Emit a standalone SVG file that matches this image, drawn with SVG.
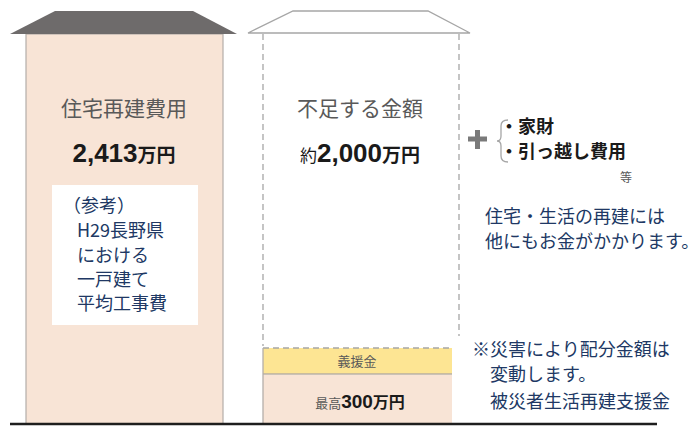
<svg xmlns="http://www.w3.org/2000/svg" width="700" height="427" viewBox="0 0 700 427">
<style>
text{font-family:"Noto Sans CJK JP","Noto Sans",sans-serif}
.gray{fill:#595959}
.blue{fill:#203864}
.blk{fill:#1a1a1a}
.b{font-weight:bold}
.dash{stroke:#a6a6a6;stroke-width:1.3;stroke-dasharray:6 4;fill:none}
</style>
<rect width="700" height="427" fill="#ffffff"/>
<g id="house-left">
<rect x="26" y="34" width="197" height="390" fill="#f8e4d6" stroke="#b4aea9" stroke-width="1.2"/>
<polygon points="55,11 193,11 237,34 10,34" fill="#6e6b6b"/>
<text x="124" y="116" font-size="21" text-anchor="middle" class="gray">住宅再建費用</text>
<text x="124" y="162" text-anchor="middle" class="blk b"><tspan font-size="26" font-family="Liberation Sans,Arial,sans-serif">2,413</tspan><tspan font-size="19">万円</tspan></text>
<rect x="52" y="185" width="146" height="140" fill="#ffffff"/>
<g class="blue" font-size="18">
<text x="63" y="212">（参考）</text>
<text x="77" y="237">H29長野県</text>
<text x="77" y="262">における</text>
<text x="77" y="286">一戸建て</text>
<text x="77" y="310">平均工事費</text>
</g>
</g>
<g id="house-right">
<polygon points="293,11 428,11 470,33 248,33" fill="#ffffff" stroke="#a6a6a6" stroke-width="1.3"/>
<line x1="263" y1="34" x2="263" y2="346" class="dash"/>
<line x1="459" y1="34" x2="459" y2="336" class="dash"/>
<text x="360" y="116" font-size="21" text-anchor="middle" class="gray">不足する金額</text>
<text x="360" y="162" text-anchor="middle" class="blk b"><tspan font-size="17" font-weight="normal">約</tspan><tspan font-size="26" font-family="Liberation Sans,Arial,sans-serif">2,000</tspan><tspan font-size="19">万円</tspan></text>
</g>
<g id="gienkin">
<rect x="263" y="348" width="189" height="26" fill="#fde593"/>
<line x1="263" y1="348" x2="452" y2="348" class="dash"/>
<line x1="263" y1="374" x2="452" y2="374" stroke="#b8aea0" stroke-width="1.5"/>
<text x="357" y="366" font-size="13" text-anchor="middle" class="gray">義援金</text>
</g>
<g id="shienkin">
<rect x="263" y="375" width="189" height="49" fill="#f8e4d6"/>
<line x1="263" y1="348" x2="263" y2="424" stroke="#b4aea9" stroke-width="1.3"/>
<text x="360" y="408" text-anchor="middle" class="blk b"><tspan font-size="13" font-weight="normal" fill="#595959">最高</tspan><tspan font-size="19" font-family="Liberation Sans,Arial,sans-serif">300</tspan><tspan font-size="16">万円</tspan></text>
</g>
<g id="extra">
<path d="M468,139 H487 M477.5,130 V149" stroke="#7a7a7a" stroke-width="5" fill="none"/>
<path d="M508,120 Q501,120 501,126 V136 Q501,141 497,141 Q501,141 501,146 V156 Q501,162 508,162" stroke="#a6a6a6" stroke-width="1.3" fill="none"/>
<text x="500" y="133" font-size="18" class="blk b">・家財</text>
<text x="500" y="158" font-size="18" class="blk b">・引っ越し費用</text>
<text x="620" y="182" font-size="12" class="gray">等</text>
</g>
<g id="notes" class="blue" font-size="18">
<text x="485" y="223">住宅・生活の再建には</text>
<text x="485" y="248">他にもお金がかかります。</text>
<text x="472" y="356">※災害により配分金額は</text>
<text x="490" y="381">変動します。</text>
<text x="490" y="408">被災者生活再建支援金</text>
</g>
<g id="connectors">
<line x1="10" y1="424" x2="657" y2="424" stroke="#1e1e1e" stroke-width="2.5"/>
</g>
</svg>
